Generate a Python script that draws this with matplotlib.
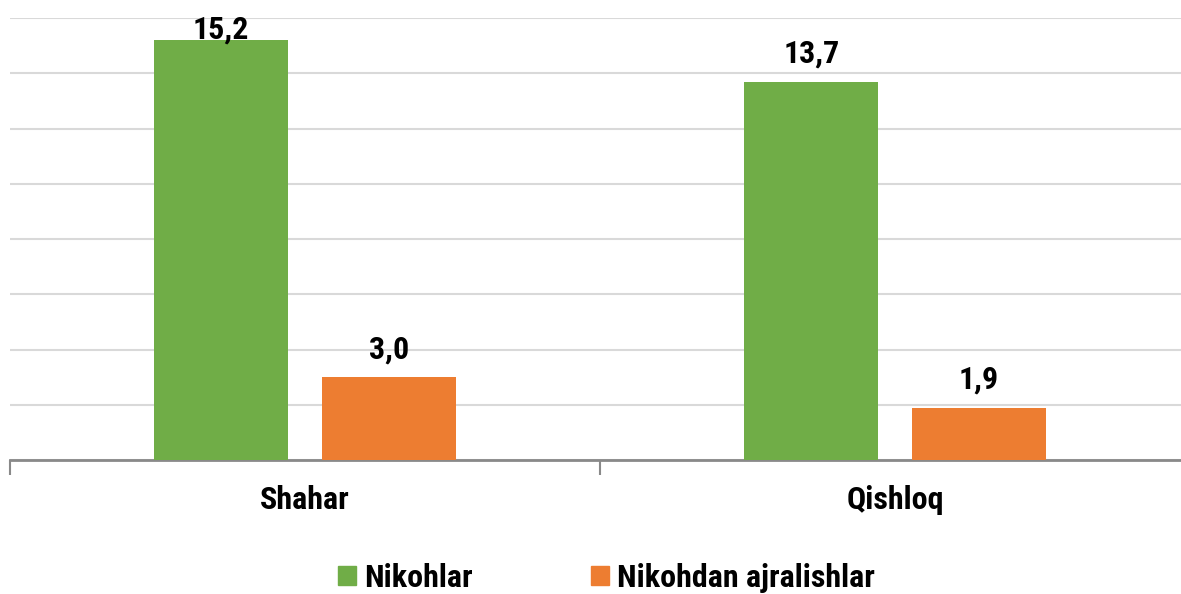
import matplotlib.pyplot as plt
from matplotlib import font_manager
import numpy as np

categories = ["Shahar", "Qishloq"]
series_names = ["Nikohlar", "Nikohdan ajralishlar"]
nikohlar = [15.2, 13.7]
ajralishlar = [3.0, 1.9]
colors = ["#70AD47", "#ED7D31"]

# pick a narrow bold font if one is installed
names = {f.name for f in font_manager.fontManager.ttflist}
fam = [n for n in ["Roboto Condensed", "Liberation Sans Narrow", "Roboto", "DejaVu Sans"] if n in names]
plt.rcParams['font.family'] = fam

fig = plt.figure(figsize=(11.81, 5.94), dpi=100)
ax = fig.add_axes([10 / 1181, 1 - 460 / 594, 1180 / 1181, 442 / 594])

x = np.arange(len(categories))
w = 0.227
off = 0.142
fs = 23

for vals, dx, c in [(nikohlar, -off, colors[0]), (ajralishlar, off, colors[1])]:
    ax.bar(x + dx, vals, width=w, color=c, zorder=3)
    for xi, v in zip(x + dx, vals):
        y = min(v + 0.69, 15.27)
        ax.text(xi, y, f"{v:.1f}".replace(".", ","), ha='center', va='baseline',
                fontsize=fs, fontweight='bold', color='black', zorder=4)

ax.set_xlim(-0.5, 1.5)
ax.set_ylim(0, 16)
ax.set_yticks(np.arange(0, 17, 2))
ax.yaxis.grid(True, color='#d9d9d9', linewidth=1.5)
ax.tick_params(axis='y', left=False, labelleft=False)
for s in ['left', 'right', 'top']:
    ax.spines[s].set_visible(False)
ax.spines['bottom'].set_color('#898989')
ax.spines['bottom'].set_linewidth(2)

ax.set_xticks([-0.5, 0.5, 1.5])
ax.set_xticklabels([])
ax.tick_params(axis='x', length=11, width=1.5, color='#898989')
for xi, cat in zip(x, categories):
    ax.text(xi, -0.9, cat, ha='center', va='top', fontsize=fs, fontweight='bold')

handles = [plt.Rectangle((0, 0), 1, 1, color=c) for c in colors]
fig.legend(handles, series_names, loc='center', bbox_to_anchor=(0.5 + 16 / 1181, 1 - 578 / 594),
           ncol=2, frameon=False, prop={'size': fs, 'weight': 'bold'},
           handlelength=0.56, handleheight=0.56, handletextpad=0.25, columnspacing=3.7,
           borderpad=0)

fig.savefig("out.png", dpi=100)
